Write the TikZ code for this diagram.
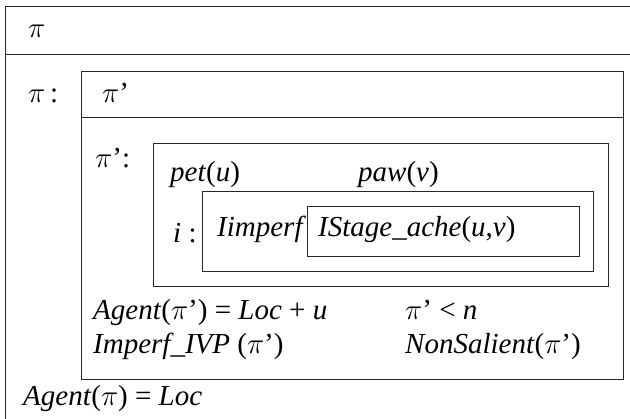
\documentclass[tikz,border=0pt]{standalone}
\usepackage{fontspec}
\setmainfont{Liberation Serif}
\DeclareFontShape{OML}{cmm}{m}{it}{<->cmmi12}{}
\newcommand\vi[1]{\textit{#1}}
\newcommand\ppi{\ensuremath{\pi}}
\begin{document}
\begin{tikzpicture}[x=1pt,y=-1pt,
  boxline/.style={draw=black!85, line width=1pt},
  lbl/.style={anchor=base west, inner sep=0pt, font=\fontsize{29}{33}\selectfont}]
\useasboundingbox (0,0) rectangle (630,419);
\clip (0,0) rectangle (630,419);
% outer frame (cut by the page edge)
\draw[boxline] (640,7) -- (5.5,7) -- (5.5,430);
\draw[boxline] (5.5,55) -- (640,55);
% boxes
\node[boxline, inner sep=0pt, minimum width=542pt, minimum height=308pt, anchor=north west] (A) at (81,71) {};
\draw[boxline] (81,118) -- (623,118);
\node[boxline, inner sep=0pt, minimum width=455pt, minimum height=143pt, anchor=north west] (B) at (153,143) {};
\node[boxline, inner sep=0pt, minimum width=391pt, minimum height=80pt, anchor=north west] (C) at (202,191) {};
\node[boxline, inner sep=0pt, minimum width=272pt, minimum height=50pt, anchor=north west] (D) at (307,206) {};
% texts
\node[lbl] (t1) at (28,38) {\ppi};
\node[lbl] (t2) at (28,103) {\ppi\,:};
\node[lbl] (t3) at (102,103) {\ppi’};
\node[lbl] (t4) at (95,168) {\ppi’:};
\node[lbl] (t5) at (170,182) {\vi{pet}(\vi{u})};
\node[lbl] (t6) at (358,182) {\vi{paw}(\vi{v})};
\node[lbl] (t7) at (173,243) {\vi{i} :};
\node[lbl] (t8) at (217,237) {\vi{Iimperf}};
\node[lbl] (t9) at (318,237) {\vi{IStage\_ache}(\vi{u},\vi{v})};
\node[lbl] (t10) at (93,320) {\vi{Agent}(\ppi’) = \vi{Loc} + \vi{u}};
\node[lbl] (t11) at (405,320) {\ppi’ < \vi{n}};
\node[lbl] (t12) at (93,354) {\vi{Imperf\_IVP} (\ppi’)};
\node[lbl] (t13) at (405,354) {\vi{NonSalient}(\ppi’)};
\node[lbl] (t14) at (23,406) {\vi{Agent}(\ppi) = \vi{Loc}};
\end{tikzpicture}
\end{document}
